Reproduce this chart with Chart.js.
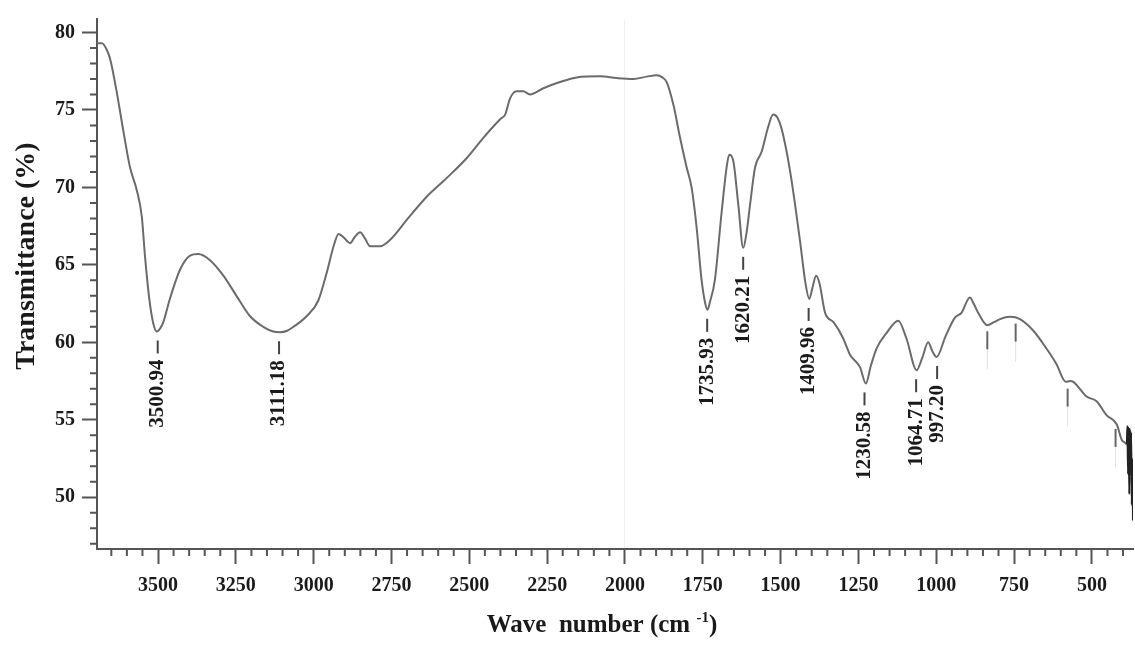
<!DOCTYPE html>
<html>
<head>
<meta charset="utf-8">
<script src="https://cdn.jsdelivr.net/npm/chart.js@4.4.1/dist/chart.umd.min.js"></script>
<style>
  html, body { margin: 0; padding: 0; background: #fff; }
</style>
</head>
<body>
<canvas id="ftir" width="1135" height="646"></canvas>
<script>
// FTIR spectrum
const wavenumbers = [
  3696, 3680, 3665, 3654, 3633, 3611, 3590, 3568, 3552, 3542, 3528, 3515, 3504, 3493, 3483,
  3462, 3429, 3397, 3371, 3333, 3290, 3248, 3205, 3162, 3130, 3108, 3085, 3065, 3022, 2985,
  2958, 2936, 2920, 2905, 2883, 2868, 2851, 2835, 2819, 2787, 2755, 2701, 2637, 2573, 2508,
  2455, 2401, 2385, 2369, 2348, 2327, 2305, 2262, 2209, 2155, 2080, 2027, 1973, 1930, 1898,
  1880, 1866, 1844, 1823, 1802, 1786, 1770, 1754, 1742, 1735, 1727, 1711, 1690, 1672, 1665,
  1652, 1636, 1620, 1610, 1598, 1582, 1561, 1540, 1524, 1510, 1497, 1470, 1438, 1420, 1408,
  1398, 1386, 1375, 1357, 1330, 1300, 1277, 1245, 1226, 1210, 1192, 1160, 1122, 1095, 1063,
  1045, 1026, 1012, 999, 970, 940, 919, 892, 880, 865, 836, 815, 795, 763, 731,
  688, 646, 614, 584, 570, 560, 517, 485, 453, 420, 404, 392, 388, 386, 384,
  382, 380, 378, 376, 374, 372, 370, 368
];
const transmittance = [
  79.3, 79.3, 78.9, 78.3, 76.2, 73.6, 71.3, 69.8, 68.1, 65.6, 62.8, 61.2, 60.7, 60.9, 61.3,
  62.8, 64.7, 65.6, 65.7, 65.3, 64.3, 63.0, 61.7, 61.0, 60.7, 60.65, 60.75, 61.0, 61.7, 62.7,
  64.5, 66.2, 67.0, 66.8, 66.4, 66.8, 67.1, 66.7, 66.2, 66.2, 66.6, 67.9, 69.4, 70.6, 71.9,
  73.2, 74.4, 74.7, 75.75, 76.2, 76.2, 76.0, 76.4, 76.8, 77.1, 77.17, 77.06, 77.0, 77.15, 77.24,
  77.1, 76.8, 75.3, 73.2, 71.3, 70.0, 67.45, 64.05, 62.5, 62.1, 62.6, 64.05, 68.3, 71.5, 72.1,
  71.7, 68.9, 66.1, 67.0, 68.9, 71.3, 72.3, 73.9, 74.7, 74.5, 73.8, 71.1, 66.6, 63.8, 62.8,
  63.5, 64.3, 63.8, 61.9, 61.3, 60.3, 59.2, 58.4, 57.35, 58.5, 59.6, 60.6, 61.4, 60.2, 58.2,
  59.0, 60.0, 59.4, 59.05, 60.4, 61.6, 61.9, 62.9, 62.5, 61.9, 61.1, 61.3, 61.5, 61.65, 61.5,
  60.75, 59.6, 58.6, 57.45, 57.5, 57.45, 56.5, 56.2, 55.3, 54.7, 53.7, 53.5, 53.4, 54.6, 51.5,
  54.5, 50.2, 54.4, 52.0, 54.2, 49.5, 52.5, 48.5
];

const xTickLabels = [3500, 3250, 3000, 2750, 2500, 2250, 2000, 1750, 1500, 1250, 1000, 750, 500];
const yTickLabels = [50, 55, 60, 65, 70, 75, 80];

// labelled bands
const peakWavenumbers = [3500.94, 3111.18, 1735.93, 1620.21, 1409.96, 1230.58, 1064.71, 997.20];
const peakTransmittance = [60.7, 60.65, 62.1, 66.1, 62.8, 57.35, 58.2, 59.05];

// small unlabelled marks
const markWavenumbers = [836, 745, 578, 424];
const markTransmittance = [61.1, 61.6, 57.4, 54.8];

const serif = "'Liberation Serif', 'Times New Roman', serif";
const axisColor = "#555";

const annotatePlugin = {
  id: "annotate",
  afterDatasetsDraw(chart) {
    const { ctx, chartArea } = chart;
    const x = chart.scales.x;
    const y = chart.scales.y;
    ctx.save();

    // minor ticks
    ctx.strokeStyle = axisColor;
    ctx.lineWidth = 2;
    ctx.beginPath();
    for (let v = Math.ceil(x.min / 50) * 50; v <= x.max; v += 50) {
      if (v % 250 === 0) continue;
      const px = x.getPixelForValue(v);
      ctx.moveTo(px, chartArea.bottom);
      ctx.lineTo(px, chartArea.bottom + 7);
    }
    for (let v = Math.ceil(y.min); v <= y.max; v++) {
      if (v % 5 === 0) continue;
      const py = y.getPixelForValue(v);
      ctx.moveTo(chartArea.left, py);
      ctx.lineTo(chartArea.left - 7, py);
    }
    ctx.stroke();

    // peak labels
    ctx.fillStyle = "#1a1a1a";
    ctx.strokeStyle = "#444";
    ctx.font = "bold 21px " + serif;
    peakWavenumbers.forEach((w, i) => {
      const px = x.getPixelForValue(w);
      const py = y.getPixelForValue(peakTransmittance[i]);
      ctx.lineWidth = 2;
      ctx.beginPath();
      ctx.moveTo(px, py + 9);
      ctx.lineTo(px, py + 22);
      ctx.stroke();
      ctx.save();
      ctx.translate(px, py + 28);
      ctx.rotate(-Math.PI / 2);
      ctx.textAlign = "right";
      ctx.textBaseline = "middle";
      ctx.fillText(w.toFixed(2), 0, 0);
      ctx.restore();
    });

    // unlabelled marks
    markWavenumbers.forEach((w, i) => {
      const px = x.getPixelForValue(w);
      const py = y.getPixelForValue(markTransmittance[i]);
      ctx.strokeStyle = "#666";
      ctx.lineWidth = 2;
      ctx.beginPath();
      ctx.moveTo(px, py + 6);
      ctx.lineTo(px, py + 24);
      ctx.stroke();
      ctx.strokeStyle = "rgba(0,0,0,0.12)";
      ctx.lineWidth = 1;
      ctx.beginPath();
      ctx.moveTo(px, py + 24);
      ctx.lineTo(px, py + 44);
      ctx.stroke();
    });

    // axis titles
    ctx.fillStyle = "#1a1a1a";
    ctx.save();
    ctx.translate(34, 256);
    ctx.rotate(-Math.PI / 2);
    ctx.font = "bold 28px " + serif;
    ctx.textAlign = "center";
    ctx.textBaseline = "alphabetic";
    ctx.fillText("Transmittance (%)", 0, 0);
    ctx.restore();

    const big = "bold 25px " + serif;
    const small = "bold 15px " + serif;
    const partA = "Wave  number (cm ";
    const partB = "-1";
    const partC = ")";
    ctx.font = big;
    const wA = ctx.measureText(partA).width;
    const wC = ctx.measureText(partC).width;
    ctx.font = small;
    const wB = ctx.measureText(partB).width;
    let tx = 602 - (wA + wB + wC) / 2;
    const base = 632;
    ctx.textAlign = "left";
    ctx.textBaseline = "alphabetic";
    ctx.font = big;
    ctx.fillText(partA, tx, base);
    tx += wA;
    ctx.font = small;
    ctx.fillText(partB, tx, base - 10);
    tx += wB;
    ctx.font = big;
    ctx.fillText(partC, tx, base);

    ctx.restore();
  },
};

new Chart(document.getElementById("ftir"), {
  type: "line",
  data: {
    datasets: [
      {
        data: wavenumbers.map((w, i) => ({ x: w, y: transmittance[i] })),
        borderColor: "#6b6b6b",
        borderWidth: 2,
        pointRadius: 0,
        fill: false,
        cubicInterpolationMode: "monotone",
        segment: {
          // noisy tail at the low end is printed almost black
          borderColor: (c) => (c.p0.parsed.x < 392 ? "#222" : undefined),
        },
      },
    ],
  },
  options: {
    responsive: false,
    animation: false,
    devicePixelRatio: 1,
    layout: { padding: { top: 13, right: 2, left: 0, bottom: 0 } },
    plugins: { legend: { display: false }, tooltip: { enabled: false } },
    scales: {
      x: {
        type: "linear",
        reverse: true,
        min: 368,
        max: 3696,
        afterBuildTicks: (scale) => {
          scale.ticks = xTickLabels.map((v) => ({ value: v }));
        },
        afterFit: (scale) => {
          scale.height = 97;
        },
        ticks: {
          color: "#1a1a1a",
          font: { family: serif, size: 20, weight: "bold" },
          padding: 10,
          maxRotation: 0,
          autoSkip: false,
          callback: (v) => String(v),
        },
        grid: {
          drawOnChartArea: true,
          color: (c) => (c.tick && c.tick.value === 2000 ? "rgba(0,0,0,0.06)" : "rgba(0,0,0,0)"),
          lineWidth: 1,
          tickLength: 15,
          tickColor: axisColor,
          tickWidth: 2,
        },
        border: { display: true, color: axisColor, width: 2 },
      },
      y: {
        min: 46.66,
        max: 80.87,
        afterBuildTicks: (scale) => {
          scale.ticks = yTickLabels.map((v) => ({ value: v }));
        },
        afterFit: (scale) => {
          scale.width = 97;
        },
        ticks: {
          color: "#1a1a1a",
          font: { family: serif, size: 20, weight: "bold" },
          padding: 7,
          callback: (v) => String(v),
        },
        grid: {
          drawOnChartArea: false,
          tickLength: 15,
          tickColor: axisColor,
          tickWidth: 2,
        },
        border: { display: true, color: axisColor, width: 2 },
      },
    },
  },
  plugins: [annotatePlugin],
});
</script>
</body>
</html>
